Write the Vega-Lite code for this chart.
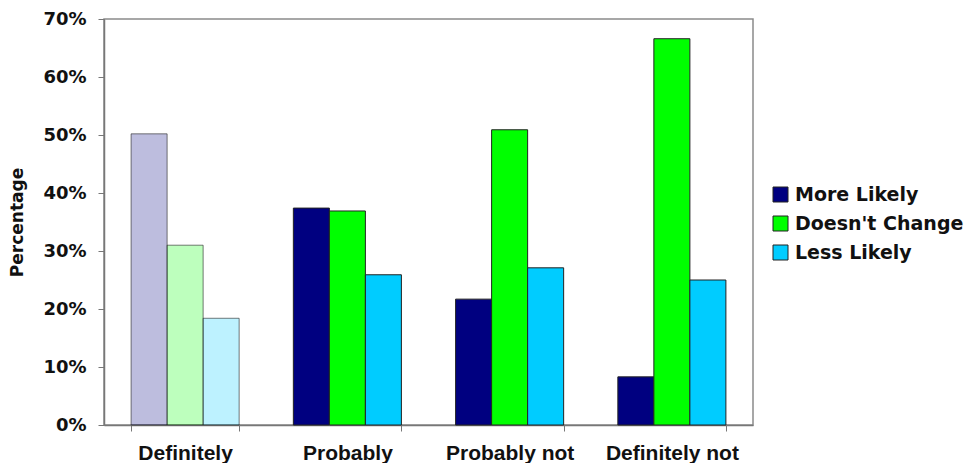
{
  "$schema": "https://vega.github.io/schema/vega-lite/v6.json",
  "width": 649,
  "height": 406,
  "autosize": {"type": "none"},
  "padding": {"left": 104, "top": 19, "right": 212, "bottom": 38},
  "background": "white",
  "config": {
    "view": {"stroke": "#8a8a8a", "strokeWidth": 1.5},
    "font": "DejaVu Sans"
  },
  "data": {
    "values": [
      {"category": "Definitely", "series": "More Likely", "value": 0.502},
      {"category": "Definitely", "series": "Doesn't Change", "value": 0.310},
      {"category": "Definitely", "series": "Less Likely", "value": 0.184},
      {"category": "Probably", "series": "More Likely", "value": 0.374},
      {"category": "Probably", "series": "Doesn't Change", "value": 0.369},
      {"category": "Probably", "series": "Less Likely", "value": 0.259},
      {"category": "Probably not", "series": "More Likely", "value": 0.217},
      {"category": "Probably not", "series": "Doesn't Change", "value": 0.509},
      {"category": "Probably not", "series": "Less Likely", "value": 0.271},
      {"category": "Definitely not", "series": "More Likely", "value": 0.083},
      {"category": "Definitely not", "series": "Doesn't Change", "value": 0.666},
      {"category": "Definitely not", "series": "Less Likely", "value": 0.250}
    ]
  },
  "mark": {"type": "bar", "stroke": "#222", "strokeWidth": 1},
  "encoding": {
    "x": {
      "field": "category",
      "type": "nominal",
      "sort": ["Definitely", "Probably", "Probably not", "Definitely not"],
      "scale": {"paddingInner": 0.334, "paddingOuter": 0.167},
      "axis": {
        "title": null,
        "labelAngle": 0,
        "labelFont": "Liberation Sans",
        "labelFontWeight": "bold",
        "labelFontSize": 21,
        "labelColor": "#111",
        "labelPadding": 11,
        "tickBand": "extent",
        "tickSize": 6,
        "tickColor": "#777",
        "domainColor": "#777",
        "domainWidth": 1.5
      }
    },
    "xOffset": {
      "field": "series",
      "type": "nominal",
      "sort": ["More Likely", "Doesn't Change", "Less Likely"],
      "scale": {"paddingInner": 0, "paddingOuter": 0}
    },
    "y": {
      "field": "value",
      "type": "quantitative",
      "scale": {"domain": [0, 0.7], "nice": false},
      "axis": {
        "title": "Percentage",
        "titleFont": "DejaVu Sans",
        "titleFontSize": 17,
        "titleFontWeight": "bold",
        "titleColor": "#111",
        "titlePadding": 16,
        "values": [0, 0.1, 0.2, 0.3, 0.4, 0.5, 0.6, 0.7],
        "format": ".0%",
        "grid": false,
        "labelFont": "DejaVu Sans",
        "labelFontWeight": "bold",
        "labelFontSize": 18,
        "labelColor": "#111",
        "labelPadding": 12,
        "tickSize": 6,
        "tickColor": "#777",
        "domainColor": "#777",
        "domainWidth": 1.5
      }
    },
    "color": {
      "field": "series",
      "type": "nominal",
      "scale": {
        "domain": ["More Likely", "Doesn't Change", "Less Likely"],
        "range": ["#000080", "#00ff00", "#00ccff"]
      },
      "legend": {
        "title": null,
        "orient": "none",
        "legendX": 667,
        "legendY": 166,
        "padding": 0,
        "symbolType": "square",
        "symbolSize": 225,
        "symbolStrokeColor": "#222",
        "symbolStrokeWidth": 1,
        "symbolOpacity": 1,
        "labelFont": "DejaVu Sans",
        "labelFontWeight": "bold",
        "labelFontSize": 19,
        "labelColor": "#111",
        "labelOffset": 5,
        "labelLimit": 300,
        "rowPadding": 9
      }
    },
    "fillOpacity": {
      "condition": {"test": "datum.category === 'Definitely'", "value": 0.26},
      "value": 1
    },
    "strokeOpacity": {
      "condition": {"test": "datum.category === 'Definitely'", "value": 0.6},
      "value": 1
    }
  }
}
